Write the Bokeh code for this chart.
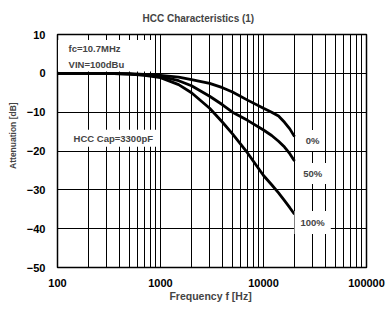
from bokeh.plotting import figure
from bokeh.models import (FixedTicker, BasicTickFormatter, Label, BoxAnnotation,
                          Range1d)
from bokeh.embed import file_html
from bokeh.resources import INLINE

# ---- data ----
freq = [100, 300, 500, 700, 1000, 1500, 2000, 3000, 4000, 5000, 7000,
        10000, 12000, 14000, 16000, 18000, 20000]
att_0 = [0, 0, -0.1, -0.3, -0.5, -1.0, -1.6, -2.6, -3.7, -4.8, -6.9,
         -9.0, -10.0, -11.0, -12.6, -14.3, -16.3]
att_50 = [0, 0, -0.2, -0.4, -0.8, -1.9, -3.2, -5.9, -8.1, -10.0, -12.1,
          -14.6, -16.0, -17.5, -19.0, -20.7, -22.6]
att_100 = [0, 0, -0.2, -0.5, -1.1, -2.9, -5.0, -9.0, -12.6, -15.6, -20.5,
           -26.3, -28.7, -30.8, -32.8, -34.6, -36.3]
series_names = ["0%", "50%", "100%"]
x_major_ticks = [100, 1000, 10000, 100000]
y_ticks = [-50, -40, -30, -20, -10, 0, 10]

FONT = "Liberation Sans"

p = figure(width=390, height=314, x_axis_type="log",
           x_range=Range1d(100, 100000), y_range=Range1d(-50, 10),
           output_backend="svg", toolbar_location=None,
           min_border_left=57, min_border_right=24,
           min_border_top=34, min_border_bottom=47)

p.background_fill_color = "white"
p.border_fill_color = "white"
p.outline_line_color = "black"
p.outline_line_width = 1.5

# title
p.title.text = "HCC Characteristics (1)"
p.title.text_font = FONT
p.title.text_font_style = "bold"
p.title.text_font_size = "10px"
p.title.align = "left"
p.title.offset = 85
p.title.standoff = 21

# grid
grid_ticks = []
for dec in [100, 1000, 10000]:
    grid_ticks += [dec * k for k in range(1, 10)]
grid_ticks.append(100000)
p.xgrid.ticker = FixedTicker(ticks=grid_ticks)
p.xgrid.grid_line_color = "black"
p.xgrid.grid_line_width = 1
p.ygrid.ticker = FixedTicker(ticks=y_ticks)
p.ygrid.grid_line_color = "black"
p.ygrid.grid_line_width = 1

# axes
for ax in (p.xaxis[0], p.yaxis[0]):
    ax.axis_line_color = None
    ax.major_tick_line_color = None
    ax.minor_tick_line_color = None
    ax.major_label_text_font = FONT
    ax.major_label_text_font_style = "bold"
    ax.major_label_text_font_size = "11px"
    ax.major_label_text_color = "black"
    ax.axis_label_text_font = FONT
    ax.axis_label_text_font_style = "bold"

p.xaxis.ticker = FixedTicker(ticks=x_major_ticks)
p.xaxis.formatter = BasicTickFormatter(use_scientific=False)
p.xaxis.major_label_standoff = 5
p.xaxis.axis_label = "Frequency f  [Hz]"
p.xaxis.axis_label_text_font_size = "10.5px"
p.xaxis.axis_label_standoff = 0

p.yaxis.ticker = FixedTicker(ticks=y_ticks)
p.yaxis.major_label_standoff = 6
# leading no-break spaces lift the label slightly above the frame centre,
# as in the original
p.yaxis.axis_label = "\u00a0" * 13 + "Attenuation [dB]"
p.yaxis.axis_label_text_font_size = "8.5px"
p.yaxis.axis_label_standoff = 6

# white patch behind the condition text
p.add_layout(BoxAnnotation(left=101, right=870, bottom=0.5, top=8.6,
                           fill_color="white", fill_alpha=1.0,
                           line_color=None))

# curves
for ys in (att_0, att_50, att_100):
    p.line(freq, ys, line_color="black", line_width=2.8, line_join="round")

def add_label(x, y, text, align="left", pad=2, size="9.5px"):
    lbl = Label(x=x, y=y, text=text, text_font=FONT, text_font_style="bold",
                text_font_size=size, text_align=align, text_baseline="middle",
                background_fill_color="white", background_fill_alpha=1.0,
                padding=pad)
    p.add_layout(lbl)

add_label(128, 6.3, "fc=10.7MHz", pad=0)
add_label(128, 2.2, "VIN=100dBu", pad=0)
add_label(134, -16.7, "HCC Cap=3300pF", pad=3)
add_label(30000, -17.3, series_names[0], align="center", pad=5)
add_label(30000, -25.8, series_names[1], align="center", pad=5)
add_label(30000, -38.4, series_names[2], align="center", pad=6)

open("out.html", "w").write(file_html(p, INLINE))
